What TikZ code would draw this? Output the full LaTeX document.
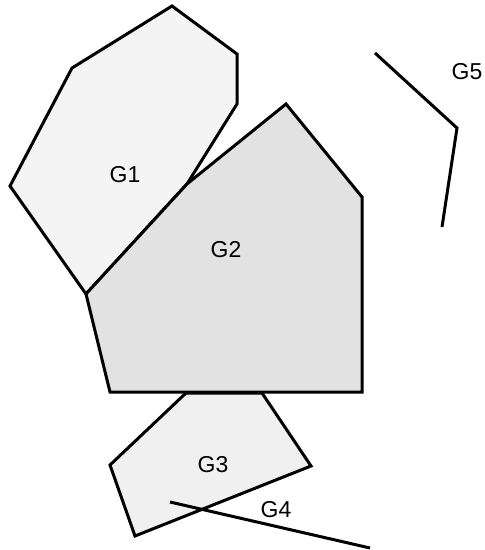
\documentclass[tikz,border=0pt]{standalone}
\usepackage{fontspec}
\setmainfont{Liberation Sans}
\usepackage{tikz}

\definecolor{lightfill}{RGB}{244,244,244}
\definecolor{midfill}{RGB}{226,226,226}
\definecolor{lowfill}{RGB}{240,240,240}

\begin{document}
\begin{tikzpicture}[x=1pt,y=-1pt,
		region/.style={draw=black,line width=3pt,line join=miter},
		label/.style={font=\fontsize{23}{26}\selectfont,inner sep=0pt}]
		\useasboundingbox (0,0) rectangle (485,550);
		% shared corners
		\coordinate (p) at (86,294);
		\coordinate (q) at (187,184);
		% G1
		\filldraw [region,fill=lightfill] (172,6) -- (237,54) -- (237,104) -- (q)
			-- (p) -- (10,186) -- (72,68) -- cycle;
		% G2
		\filldraw [region,fill=midfill] (p) -- (q) -- (286,104) -- (362,197)
			-- (362,392) -- (110,392) -- cycle;
		% G3
		\filldraw [region,fill=lowfill] (186,393) -- (262,393) -- (311,466)
			-- (135,536) -- (110,465) -- cycle;
		% G4
		\coordinate (a) at (170,502);
		\coordinate (b) at (370,548);
		\draw [region] (a) -- (b);
		% G5
		\coordinate (c) at (375,53);
		\coordinate (d) at (457,128);
		\coordinate (e) at (442,227);
		\draw [region] (c) -- (d) -- (e);
		% names
		\node [label] (g1) at (125,175) {G1};
		\node [label] (g2) at (226,250) {G2};
		\node [label] (g3) at (213,465) {G3};
		\node [label] (g4) at (276,510) {G4};
		\node [label] (g5) at (467,72) {G5};
\end{tikzpicture}
\end{document}
